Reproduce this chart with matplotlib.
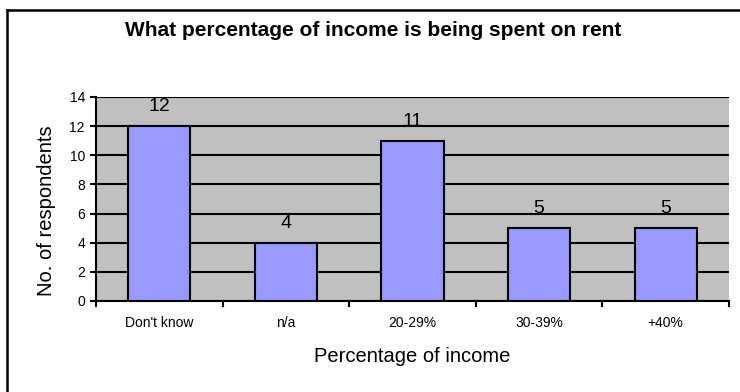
import matplotlib
matplotlib.use("Agg")
import matplotlib.pyplot as plt
from matplotlib.lines import Line2D

categories = ["Don't know", "n/a", "20-29%", "30-39%", "+40%"]
respondents = [12, 4, 11, 5, 5]
y_ticks = [0, 2, 4, 6, 8, 10, 12, 14]

plt.rcParams['font.family'] = ['Liberation Sans', 'DejaVu Sans']

fig = plt.figure(figsize=(7.4, 3.92), dpi=100)
ax = fig.add_axes([96 / 740, 1 - 301 / 392, 633 / 740, 204 / 392])
ax.set_facecolor('#c0c0c0')

x = list(range(len(categories)))
bars = ax.bar(x, respondents, width=0.49, color='#9999ff', edgecolor='black',
              linewidth=1.5, zorder=3)
for xi, v in zip(x, respondents):
    ax.annotate(str(v), (xi, v), xytext=(0, 8), textcoords='offset points',
                ha='center', va='bottom', fontsize=14)

ax.set_xlim(-0.5, len(categories) - 0.5)
ax.set_ylim(0, 14)
ax.set_yticks(y_ticks)
ax.yaxis.grid(True, color='black', linewidth=1.5, zorder=1)
ax.set_axisbelow(True)

ax.set_xticks(x)
ax.set_xticklabels(categories, fontsize=10)
ax.set_xticks([i - 0.5 for i in range(len(categories) + 1)], minor=True)
ax.tick_params(axis='x', which='major', length=0, pad=11)
ax.tick_params(axis='x', which='minor', length=4, width=1.5, direction='out')
ax.tick_params(axis='y', length=4, width=1.5, labelsize=10, pad=4)

for s in ['top', 'right']:
    ax.spines[s].set_visible(False)
for s in ['left', 'bottom']:
    ax.spines[s].set_linewidth(1.5)

ax.set_ylabel('No. of respondents', fontsize=14.5, va='center')
ax.yaxis.set_label_coords((47 - 96) / 633, (301 - 211) / 204)
ax.set_xlabel('Percentage of income', fontsize=14.5, va='center')
ax.xaxis.set_label_coords(0.5, (301 - 356) / 204)

fig.text(373 / 740, 1 - 30 / 392, 'What percentage of income is being spent on rent',
         ha='center', va='center', fontsize=15, fontweight='bold')

# chart frame (only top and left edges are visible in the crop)
fig.add_artist(Line2D([6.5 / 740, 1], [1 - 9.5 / 392] * 2, transform=fig.transFigure,
                      color='black', linewidth=1.8))
fig.add_artist(Line2D([6.5 / 740] * 2, [0, 1 - 9.5 / 392], transform=fig.transFigure,
                      color='black', linewidth=1.8))

fig.savefig('out.png', dpi=100)
